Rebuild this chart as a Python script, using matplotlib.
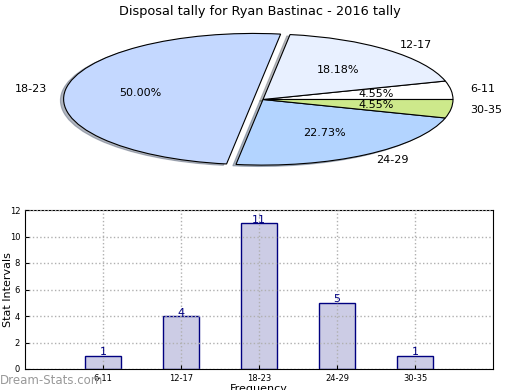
import matplotlib
matplotlib.use("Agg")
import matplotlib.pyplot as plt

title = "Disposal tally for Ryan Bastinac - 2016 tally"
groups = ["6-11", "12-17", "18-23", "24-29", "30-35"]
counts = [1, 4, 11, 5, 1]
pie_colors = ["#ffffff", "#e8f0ff", "#c4d8ff", "#b3d4ff", "#cde98b"]
explode = [0, 0, 0.05, 0, 0]

fig = plt.figure(figsize=(5.2, 3.9), dpi=100)

# pie on top, stretched into an ellipse
ax1 = fig.add_axes([25.5 / 520, 1 - 181.5 / 390, 475 / 520, 164 / 390])
wedges, texts, autotexts = ax1.pie(counts, labels=groups, colors=pie_colors,
                                   explode=explode, autopct="%.2f%%",
                                   shadow={"ox": -0.012, "oy": -0.015, "shade": 0.5},
                                   startangle=0,
                                   wedgeprops={"edgecolor": "black", "linewidth": 0.8},
                                   textprops={"fontsize": 8})
ax1.set_aspect("auto")
ax1.set_xlim(-1.25, 1.25)
ax1.set_ylim(-1.25, 1.25)
fig.text(0.5, 1 - 11 / 390, title, ha="center", va="center", fontsize=9.3)

# bar chart below
ax2 = fig.add_axes([25 / 520, 1 - 369 / 390, 468 / 520, 159 / 390])
x = range(len(groups))
ax2.bar(x, counts, width=0.46, color="#cccce5", edgecolor="#000080",
        linewidth=1, zorder=1)
for i, c in enumerate(counts):
    ax2.text(i, c + 0.25, str(c), ha="center", va="center", color="#000080", fontsize=8)
ax2.set_xlim(-1, 5)
ax2.set_ylim(0, 12)
ax2.set_xticks(list(x))
ax2.set_xticklabels(groups)
ax2.set_yticks(range(0, 13, 2))
ax2.tick_params(labelsize=6, direction="in", length=3)
ax2.grid(True, linestyle=":", color="#b0b0b0", linewidth=1, zorder=2)
ax2.set_axisbelow(False)
ax2.set_ylabel("Stat Intervals", fontsize=8)
ax2.yaxis.set_label_coords(-0.026, 0.5)
ax2.set_xlabel("Frequency", fontsize=8, labelpad=1)

fig.text(0.0, 1 - 380 / 390, "Dream-Stats.com", ha="left", va="center",
         color="#999999", fontsize=8.5)

fig.savefig("out.png", dpi=100)
